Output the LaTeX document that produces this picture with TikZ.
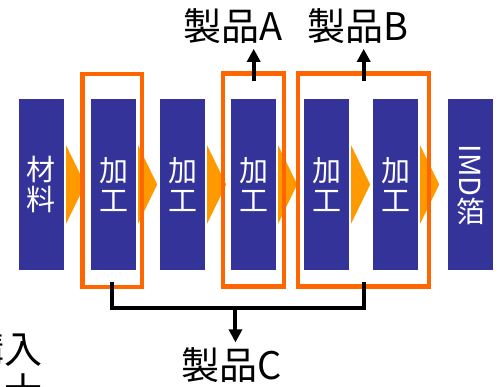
\documentclass[tikz,border=0pt]{standalone}
\usepackage{graphicx}
\usepackage{fontspec}
\setmainfont{Noto Sans CJK JP}
\usetikzlibrary{arrows.meta,calc}
\definecolor{boxblue}{RGB}{51,51,153}
\definecolor{flow}{RGB}{255,153,0}
\definecolor{selorange}{RGB}{255,102,0}
\tikzset{
  stage/.style={fill=boxblue, text=white, minimum width=45, minimum height=171, inner sep=0pt, align=center, font=\fontsize{29}{30}\selectfont},
  sel/.style={draw=selorange, line width=4.5pt, minimum width=#1, minimum height=213, inner sep=0pt},
  lbl/.style={font=\fontsize{38}{42}\selectfont, inner sep=5pt},
  outarrow/.style={line width=4pt, -{Triangle[width=13pt,length=13pt]}},
  bracket/.style={line width=4pt}
}
\begin{document}
\begin{tikzpicture}[x=1pt,y=-1pt]
        \useasboundingbox (0,0) rectangle (501,387);
        \clip (0,0) rectangle (501,387);

        \node[stage] (s1) at (41.5,184.5) {材\\料};
        \node[stage] (s2) at (113.5,184.5) {加\\工};
        \node[stage] (s3) at (182.5,184.5) {加\\工};
        \node[stage] (s4) at (253.5,184.5) {加\\工};
        \node[stage] (s5) at (326.5,184.5) {加\\工};
        \node[stage] (s6) at (395.5,184.5) {加\\工};
        \node[stage] (s7) at (470.5,184.5) {\rotatebox{-90}{IMD}\\箔};

        \foreach \i in {1,...,6}
                \fill[flow] ([xshift=2pt]s\i.east) ++(0,-39) -- ++(19,39) -- ++(-19,39) -- cycle;

        \node[sel=59.5] (selC) at (112.3,180.5) {};
        \node[sel=61] (selA) at (253.7,180) {};
        \node[sel=131] (selB) at (363.7,180) {};

        \node[lbl, anchor=base] (lblA) at (233,40.5) {製品A};
        \node[lbl, anchor=base] (lblB) at (358,40.5) {製品B};
        \node[lbl, anchor=base] (lblC) at (232,379.5) {製品C};
        \node[lbl, anchor=north east, align=right] (note) at (48,326) {購入\\士};

        \draw[outarrow] ([yshift=-10pt]selA.north) -- (selA.north |- lblA.south);
        \draw[outarrow] ([yshift=-10pt]selB.north) -- (selB.north |- lblB.south);

        \coordinate (jl) at ([yshift=-19pt]selC.south);
        \coordinate (jr) at (jl -| selB.south);
        \coordinate (jm) at ($(jl)!0.49!(jr)$);
        \draw[bracket] ([yshift=7pt]selC.south) -- (jl) -- (jr) -- ([yshift=7pt]selB.south);
        \draw[outarrow] (jm) -- (jm |- lblC.north);
\end{tikzpicture}
\end{document}
